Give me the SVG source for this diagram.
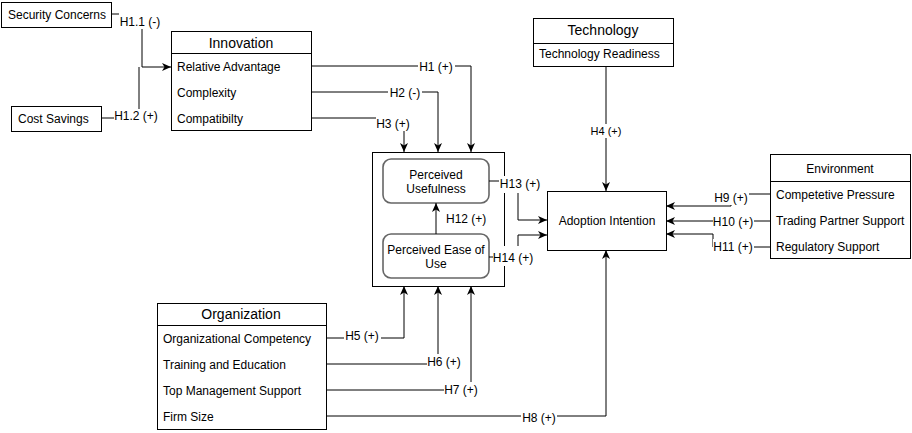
<svg xmlns="http://www.w3.org/2000/svg" width="912" height="433" viewBox="0 0 912 433">
<defs>
<style>
text{font-family:"Liberation Sans",Arial,Helvetica,sans-serif;font-size:12px;fill:#000}
.t14{font-size:14px}
.t11{font-size:11px}
.c{text-anchor:middle}
.box{fill:#fff;stroke:#000;stroke-width:1}
.rnd{fill:#fff;stroke:#666;stroke-width:1.6}
.div{stroke:#000;stroke-width:1;fill:none}
.edge{fill:none;stroke:#000;stroke-width:1}
.arr{marker-end:url(#ah)}
.bg{fill:#fff}
</style>
<marker id="ah" markerWidth="10" markerHeight="8" refX="9" refY="4" orient="auto" markerUnits="userSpaceOnUse">
<path d="M0,0 L9,4 L0,8 L2.5,4 z" fill="#000"/>
</marker>
</defs>
<rect width="912" height="433" fill="#fff"/>

<g id="security-concerns">
<rect class="box" x="1.5" y="2.5" width="110" height="25"/>
<text x="57" y="19" class="c">Security Concerns</text>
</g>

<g id="cost-savings">
<rect class="box" x="11.5" y="106.5" width="90" height="25"/>
<text x="18" y="123">Cost Savings</text>
</g>

<g id="innovation">
<rect class="box" x="171.5" y="31.5" width="140" height="99"/>
<path class="div" d="M171.5,53.5 H311.5"/>
<text x="241" y="48" class="c t14">Innovation</text>
<text x="177" y="71">Relative Advantage</text>
<text x="177" y="97">Complexity</text>
<text x="177" y="123">Compatibilty</text>
</g>

<g id="perception">
<rect class="box" x="372.5" y="152.5" width="132" height="134"/>
</g>

<g id="perceived-usefulness">
<rect class="rnd" x="383" y="159" width="106" height="44" rx="8"/>
<text x="436" y="179" class="c">Perceived</text>
<text x="436" y="193" class="c">Usefulness</text>
</g>

<g id="perceived-ease-of-use">
<rect class="rnd" x="383" y="234" width="106" height="44" rx="8"/>
<text x="436" y="254" class="c">Perceived Ease of</text>
<text x="436" y="268" class="c">Use</text>
</g>

<g id="technology">
<rect class="box" x="533.5" y="18.5" width="140" height="48"/>
<path class="div" d="M533.5,43.5 H673.5"/>
<text x="603" y="35" class="c t14">Technology</text>
<text x="539" y="58">Technology Readiness</text>
</g>

<g id="adoption-intention">
<rect class="box" x="547.5" y="191.5" width="119" height="59"/>
<text x="607" y="225" class="c">Adoption Intention</text>
</g>

<g id="environment">
<rect class="box" x="770.5" y="154.5" width="140" height="104"/>
<path class="div" d="M770.5,181.5 H910.5"/>
<text x="840" y="173" class="c">Environment</text>
<text x="776" y="199">Competetive Pressure</text>
<text x="776" y="225">Trading Partner Support</text>
<text x="776" y="251">Regulatory Support</text>
</g>

<g id="organization">
<rect class="box" x="157.5" y="303.5" width="169" height="126"/>
<path class="div" d="M157.5,325.5 H326.5"/>
<text x="241" y="319" class="c t14">Organization</text>
<text x="163" y="343">Organizational Competency</text>
<text x="163" y="369">Training and Education</text>
<text x="163" y="395">Top Management Support</text>
<text x="163" y="421">Firm Size</text>
</g>

<g id="connectors">
<path class="edge arr" d="M111,14 H142 V67 H171"/>
<path class="edge" d="M101,118 H139 V67"/>
<path class="edge arr" d="M311,66 H471 V152"/>
<path class="edge arr" d="M311,92 H438 V152"/>
<path class="edge arr" d="M311,118 H404 V152"/>
<path class="edge arr" d="M436,234 V203"/>
<path class="edge arr" d="M489,181 H518 V220 H547"/>
<path class="edge arr" d="M489,257 H518 V235 H547"/>
<path class="edge arr" d="M606,66 V191"/>
<path class="edge arr" d="M770,194 H731 V206 H666"/>
<path class="edge arr" d="M770,221 H666"/>
<path class="edge arr" d="M770,247 H713 V234 H666"/>
<path class="edge arr" d="M326,338 H404 V286"/>
<path class="edge arr" d="M326,364 H438 V286"/>
<path class="edge arr" d="M326,390 H471 V286"/>
<path class="edge arr" d="M326,416 H606 V250"/>

<rect class="bg" x="119" y="8" width="43" height="21"/>
<text x="140" y="26" class="c">H1.1 (-)</text>
<rect class="bg" x="114" y="109" width="44" height="14"/>
<text x="136" y="120" class="c">H1.2 (+)</text>
<rect class="bg" x="418" y="60" width="37" height="14"/>
<text x="436" y="71" class="c">H1 (+)</text>
<rect class="bg" x="388" y="86" width="34" height="14"/>
<text x="405" y="97" class="c">H2 (-)</text>
<rect class="bg" x="376" y="111" width="35" height="20"/>
<text x="393" y="128" class="c">H3 (+)</text>
<text x="446" y="223">H12 (+)</text>
<rect class="bg" x="499" y="176" width="43" height="17"/>
<text x="520" y="188" class="c">H13 (+)</text>
<rect class="bg" x="493" y="246" width="41" height="20"/>
<text x="513" y="262" class="c">H14 (+)</text>
<rect class="bg" x="588" y="124" width="36" height="14"/>
<text x="606" y="135" class="c t11">H4 (+)</text>
<rect class="bg" x="713" y="189" width="36" height="16"/>
<text x="731" y="202" class="c">H9 (+)</text>
<rect class="bg" x="713" y="215" width="41" height="14"/>
<text x="733" y="226" class="c">H10 (+)</text>
<rect class="bg" x="713" y="239" width="41" height="15"/>
<text x="733" y="251" class="c">H11 (+)</text>
<rect class="bg" x="344" y="329" width="37" height="14"/>
<text x="362" y="340" class="c">H5 (+)</text>
<rect class="bg" x="427" y="354" width="34" height="15"/>
<text x="444" y="366" class="c">H6 (+)</text>
<rect class="bg" x="444" y="382" width="35" height="15"/>
<text x="461" y="394" class="c">H7 (+)</text>
<rect class="bg" x="521" y="410" width="36" height="15"/>
<text x="539" y="422" class="c">H8 (+)</text>
</g>
</svg>
